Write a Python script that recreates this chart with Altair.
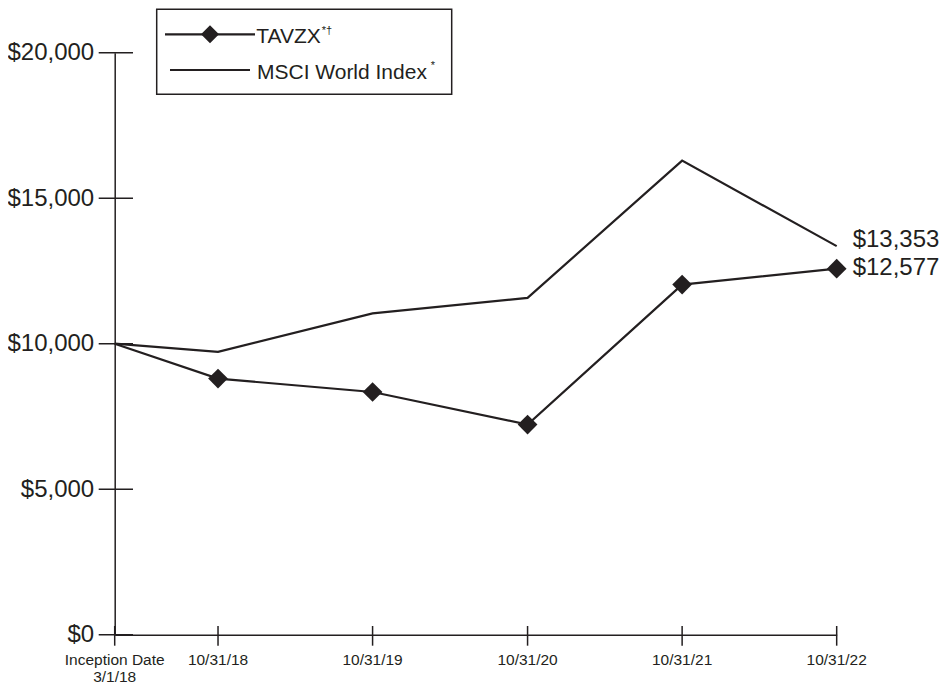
import altair as alt
import pandas as pd

# ---- data ----
dates = ["2018-03-01", "2018-10-31", "2019-10-31", "2020-10-31", "2021-10-31", "2022-10-31"]
x_labels = ["Inception Date\n3/1/18", "10/31/18", "10/31/19", "10/31/20", "10/31/21", "10/31/22"]
tavzx = [10000, 8800, 8340, 7220, 12030, 12577]
msci = [10000, 9720, 11040, 11575, 16290, 13353]
y_ticks = [0, 5000, 10000, 15000, 20000]
series_names = ["TAVZX", "MSCI World Index"]
legend_sups = ["*\u2020", "*"]

INK = "#231f20"
FONT = "Liberation Sans"
W, H = 722, 582

df = pd.DataFrame({
    "date": dates * 2,
    "value": tavzx + msci,
    "series": [series_names[0]] * len(dates) + [series_names[1]] * len(dates),
    "idx": list(range(len(dates))) * 2,
})
xdf = pd.DataFrame({"date": dates, "label": x_labels})
ydf = pd.DataFrame({"value": y_ticks})
one = pd.DataFrame({"k": [0]})

X = alt.X("date:T", title=None, scale=alt.Scale(nice=False),
          axis=alt.Axis(labels=False, ticks=False, grid=False,
                        domainColor=INK, domainWidth=1.5))
Y = alt.Y("value:Q", title=None, scale=alt.Scale(domain=[0, 20000], nice=False),
          axis=alt.Axis(values=y_ticks, format="$,.0f", labelFontSize=24, labelFont=FONT,
                        labelColor=INK, labelPadding=21, ticks=False, tickSize=0, grid=False,
                        domainColor=INK, domainWidth=1.5))
Xs = alt.X("date:T", title=None)
Ys = alt.Y("value:Q", title=None)

lines = alt.Chart(df).mark_line(color=INK, strokeWidth=2.2).encode(x=X, y=Y, detail="series:N")

diam = alt.Chart(df).transform_filter(
    (alt.datum.series == series_names[0]) & (alt.datum.idx > 0)
).mark_point(shape="diamond", filled=True, size=390, color=INK, opacity=1).encode(x=Xs, y=Ys)

lab_t = alt.Chart(df).transform_filter(
    (alt.datum.series == series_names[0]) & (alt.datum.idx == len(dates) - 1)
).mark_text(align="left", baseline="middle", dx=16, dy=-1, fontSize=24, font=FONT, color=INK).encode(
    x=Xs, y=Ys, text=alt.Text("value:Q", format="$,.0f"))

lab_m = alt.Chart(df).transform_filter(
    (alt.datum.series == series_names[1]) & (alt.datum.idx == len(dates) - 1)
).mark_text(align="left", baseline="middle", dx=16, dy=-6, fontSize=24, font=FONT, color=INK).encode(
    x=Xs, y=Ys, text=alt.Text("value:Q", format="$,.0f"))

ytick = alt.Chart(ydf).mark_rule(color=INK, strokeWidth=1.5).encode(
    y=Ys, x=alt.value(-16), x2=alt.value(18.3))

xtick = alt.Chart(xdf).mark_rule(color=INK, strokeWidth=1.5).encode(
    x=Xs, y=alt.value(H - 8.7), y2=alt.value(H + 11))

xlab = alt.Chart(xdf).mark_text(baseline="top", lineBreak="\n", lineHeight=17, fontSize=15.5,
                                font=FONT, color=INK).encode(
    x=Xs, y=alt.value(H + 18), text="label:N")

# ---- legend (drawn by hand) ----
box = alt.Chart(one).mark_rect(fill="white", stroke=INK, strokeWidth=1.5).encode(
    x=alt.value(42), x2=alt.value(337), y=alt.value(-43.5), y2=alt.value(41.6))
leg_line1 = alt.Chart(one).mark_rule(color=INK, strokeWidth=2.2).encode(
    x=alt.value(50.3), x2=alt.value(140.3), y=alt.value(-18.4))
leg_diam = alt.Chart(one).mark_point(shape="diamond", filled=True, size=324, color=INK, opacity=1).encode(
    x=alt.value(95.3), y=alt.value(-18.4))
leg_text1 = alt.Chart(one).mark_text(align="left", baseline="alphabetic", fontSize=21, font=FONT, color=INK).encode(
    x=alt.value(141.5), y=alt.value(-9.4), text=alt.value(series_names[0]))
leg_sup1 = alt.Chart(one).mark_text(align="left", baseline="alphabetic", fontSize=11, font=FONT, color=INK).encode(
    x=alt.value(207), y=alt.value(-18.7), text=alt.value(legend_sups[0]))
leg_line2 = alt.Chart(one).mark_rule(color=INK, strokeWidth=2.2).encode(
    x=alt.value(55.3), x2=alt.value(135.3), y=alt.value(17.3))
leg_text2 = alt.Chart(one).mark_text(align="left", baseline="alphabetic", fontSize=21, font=FONT, color=INK).encode(
    x=alt.value(142.3), y=alt.value(26.3), text=alt.value(series_names[1]))
leg_sup2 = alt.Chart(one).mark_text(align="left", baseline="alphabetic", fontSize=11, font=FONT, color=INK).encode(
    x=alt.value(316), y=alt.value(16.3), text=alt.value(legend_sups[1]))

chart = alt.layer(
    lines, diam, lab_t, lab_m, ytick, xtick, xlab,
    box, leg_line1, leg_diam, leg_text1, leg_sup1, leg_line2, leg_text2, leg_sup2,
).properties(
    width=W, height=H,
    autosize=alt.AutoSizeParams(type="none"),
    padding={"left": 106.7, "top": 44.7, "right": 107, "bottom": 60},
).configure_view(stroke=None)

chart.save("out.html", embed_options={"renderer": "svg", "actions": False})
